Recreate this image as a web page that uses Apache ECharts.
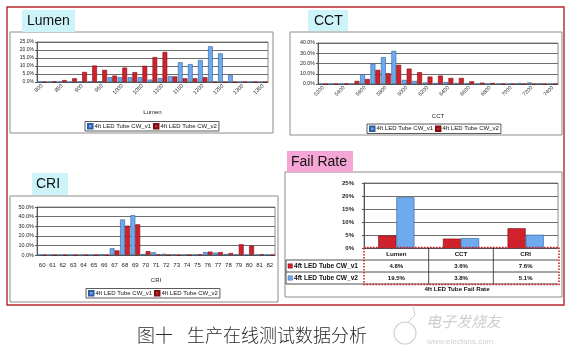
<!DOCTYPE html>
<html><head><meta charset="utf-8">
<script src="https://cdn.jsdelivr.net/npm/echarts@6/dist/echarts.min.js"></script>
<style>html,body{margin:0;padding:0;background:#fff}#c{width:574px;height:355px}</style>
</head><body><div id="c"></div>
<script>
const seriesNames = ['4ft LED Tube CW_v1', '4ft LED Tube CW_v2'];

const lumenCats = ['800','825','850','875','900','925','950','975','1000','1025','1050','1075','1100','1125','1150','1175','1200','1225','1250','1275','1300','1325','1350'];
const lumenV1 = [0,0,0,0,0.3,0.3,0.5,3.0,3.0,3.0,3.0,1.5,2.5,3.7,12.3,11.2,13.7,22.3,17.9,4.4,0,0,0];
const lumenV2 = [0,0.4,1.2,2.3,6.3,10.3,7.6,4.0,9.0,6.2,10.1,15.6,18.8,3.5,2.3,2.3,3.0,0,0,0,0,0,0];

const cctCats = ['5200','5300','5400','5500','5600','5700','5800','5900','6000','6100','6200','6300','6400','6500','6600','6700','6800','6900','7000','7100','7200','7300','7400'];
const cctV1 = [0,0,0,0,9.5,19.7,26.2,32.3,4.0,3.0,1.5,1.0,2.0,1.0,0.5,0,0,0,0,1.0,1.5,0.5,0];
const cctV2 = [0,0.2,0.5,3.0,4.9,13.8,10.5,18.7,15.0,11.5,7.2,8.2,5.9,5.9,2.6,1.3,1.0,0.3,0,0,0,0,0];

const criCats = ['60','61','62','63','64','65','66','67','68','69','70','71','72','73','74','75','76','77','78','79','80','81','82'];
const criV1 = [0,0,0,0,0,0,0.5,7.0,37.0,41.5,1.0,2.8,1.2,0.5,0,0,3.0,2.5,1.0,0.5,0,0,0];
const criV2 = [0,0,0,0,0,0,0,4.8,30.5,32.0,4.0,0.5,0,0,0,0.5,3.5,3.0,2.0,11.2,9.8,0.5,0];

const failCats = ['Lumen', 'CCT', 'CRI'];
const failV1 = [4.8, 3.6, 7.6];
const failV2 = [19.5, 3.8, 5.1];

const panelTitles = ['Lumen', 'CCT', 'CRI', 'Fail Rate'];
const failTitle = '4ft LED Tube Fail Rate';
const captionA = '图十';
const captionB = '生产在线测试数据分析';

const FONT = 'Liberation Sans, Arial, sans-serif';
const BLUE = '#6eaaee', BLUE_B = '#2c5f9e', RED = '#d0222c', RED_B = '#7a0f14';

const grids = [
  {left:37, top:42, width:231, height:40},
  {left:318, top:43, width:240, height:41},
  {left:37, top:207, width:238, height:48},
  {left:364, top:183, width:194, height:65}
].map(g => Object.assign({show:true, borderColor:'#8a8a8a', borderWidth:1, containLabel:false}, g));

function histX(gi, cats, name, rotate, nameGap, fs, interval, margin){
  return {type:'category', gridIndex:gi, data:cats, name:name, nameLocation:'middle', nameGap:nameGap,
    nameTextStyle:{fontSize:6, fontFamily:FONT, color:'#222'},
    axisLine:{lineStyle:{color:'#555'}}, axisTick:{length:2, lineStyle:{color:'#555'}},
    axisLabel:{rotate:rotate, interval:interval, fontSize:fs, fontFamily:FONT, color:'#222', margin:margin}};
}
function histY(gi, max, interval, fs, fmt, bold, margin){
  return {type:'value', gridIndex:gi, min:0, max:max, interval:interval,
    axisLine:{show:true, lineStyle:{color:'#555'}}, axisTick:{show:true, length:2, lineStyle:{color:'#555'}},
    splitLine:{lineStyle:{color:'#5e5e5e', width:0.9}},
    axisLabel:{formatter:fmt, fontSize:fs, fontFamily:FONT, color:'#222', margin:margin || 3, fontWeight: bold ? 'bold' : 'normal'}};
}
function bars(gi, name, data, color, border, catGap){
  return {type:'bar', name:name, xAxisIndex:gi, yAxisIndex:gi, data:data, barGap:'0%', barCategoryGap:catGap,
    itemStyle:{color:color, borderColor:border, borderWidth:0.6}, emphasis:{disabled:true}};
}
const f1 = v => v.toFixed(1) + '%';
const f0 = v => v + '%';

const xAxes = [
  histX(0, lumenCats, 'Lumen', 45, 27, 5.5, 1, 3),
  histX(1, cctCats, 'CCT', 45, 29, 5.3, 1, 3),
  histX(2, criCats, 'CRI', 0, 22, 6, 0, 7),
  {type:'category', gridIndex:3, data:failCats, axisLine:{lineStyle:{color:'#555'}}, axisTick:{show:false}, axisLabel:{show:false}}
];
const yAxes = [
  histY(0, 25, 5, 5, f1),
  histY(1, 40, 10, 5.3, f1),
  histY(2, 50, 10, 5.5, f1),
  histY(3, 25, 5, 6, f0, true, 10)
];

const series = [
  bars(0, seriesNames[0], lumenV1, BLUE, BLUE_B, '6%'),
  bars(0, seriesNames[1], lumenV2, RED, RED_B, '6%'),
  bars(1, seriesNames[0], cctV1, BLUE, BLUE_B, '6%'),
  bars(1, seriesNames[1], cctV2, RED, RED_B, '6%'),
  bars(2, seriesNames[0], criV1, BLUE, BLUE_B, '6%'),
  bars(2, seriesNames[1], criV2, RED, RED_B, '6%'),
  bars(3, 'fail_v1', failV1, RED, RED_B, '44%'),
  bars(3, 'fail_v2', failV2, BLUE, BLUE_B, '44%')
];

function legendAt(left, top){
  return {left:left, top:top, data:seriesNames, icon:'rect', itemWidth:4.5, itemHeight:4.5, itemGap:2,
    padding:[1.5,2], borderColor:'#333', borderWidth:0.8, textStyle:{fontSize:6, fontFamily:FONT, color:'#111', padding:[0,0,0,-3]},
    selectedMode:false};
}

function txt(x, y, text, size, opts){
  opts = opts || {};
  return {type:'text', x:x, y:y, silent:true, z:10, style:{text:text, fontSize:size, fontFamily:opts.family || FONT,
    fontWeight:opts.weight || 'normal', fontStyle:opts.style || 'normal', fill:opts.fill || '#111',
    textAlign:opts.align || 'left', textVerticalAlign:'middle', align:opts.align || 'left', verticalAlign:'middle'}};
}
function rect(x, y, w, h, style, z){
  return {type:'rect', shape:{x:x, y:y, width:w, height:h}, silent:true, z:z || 1, style:style};
}
function line(x1, y1, x2, y2, stroke, w){
  return {type:'line', shape:{x1:x1, y1:y1, x2:x2, y2:y2}, silent:true, z:5, style:{stroke:stroke, lineWidth:w || 0.8}};
}

const g = [];
g.push(rect(7, 7, 557, 298, {fill:'none', stroke:'#b8272c', lineWidth:1.4}));
g.push(rect(10, 32, 263, 101, {fill:'none', stroke:'#8c8c8c', lineWidth:1}));
g.push(rect(290, 32, 272, 103, {fill:'none', stroke:'#8c8c8c', lineWidth:1}));
g.push(rect(10, 196, 268, 106, {fill:'none', stroke:'#8c8c8c', lineWidth:1}));
g.push(rect(285, 172, 277, 125, {fill:'none', stroke:'#8c8c8c', lineWidth:1}));
g.push(rect(22, 10, 53, 22, {fill:'#cdf4f8'}));
g.push(txt(27, 21, panelTitles[0], 14));
g.push(rect(308, 10, 40, 21, {fill:'#cdf4f8'}));
g.push(txt(314, 21, panelTitles[1], 14));
g.push(rect(32, 173, 36, 22, {fill:'#cdf4f8'}));
g.push(txt(36, 184, panelTitles[2], 14));
g.push(rect(287, 151, 66, 21, {fill:'#f6a6d6'}));
g.push(txt(291, 162, panelTitles[3], 14));

const fg = grids[3];
const tTop = fg.top + fg.height, rowH = 12;
const colW = fg.width / failCats.length;
const tLeft = 286, tRight = fg.left + fg.width;
for (let r = 1; r <= 3; r++) g.push(line(tLeft, tTop + r*rowH, tRight, tTop + r*rowH, '#222', 0.8));
g.push(line(tLeft, tTop + rowH, tLeft, tTop + 3*rowH, '#222', 0.8));
for (let c = 1; c < failCats.length; c++) g.push(line(fg.left + c*colW, tTop, fg.left + c*colW, tTop + 3*rowH, '#222', 0.8));
failCats.forEach((cat, i) => {
  const cx = fg.left + (i + 0.5) * colW;
  g.push(txt(cx, tTop + rowH*0.5, cat, 6.2, {weight:'bold', align:'center'}));
  g.push(txt(cx, tTop + rowH*1.5, f1(failV1[i]), 6, {weight:'bold', align:'center'}));
  g.push(txt(cx, tTop + rowH*2.5, f1(failV2[i]), 6, {weight:'bold', align:'center'}));
});
g.push(rect(288, tTop + rowH*1.5 - 2.2, 4.4, 4.4, {fill:RED, stroke:RED_B, lineWidth:0.5}, 6));
g.push(rect(288, tTop + rowH*2.5 - 2.2, 4.4, 4.4, {fill:BLUE, stroke:BLUE_B, lineWidth:0.5}, 6));
g.push(txt(294, tTop + rowH*1.5, seriesNames[0], 6.6, {weight:'bold'}));
g.push(txt(294, tTop + rowH*2.5, seriesNames[1], 6.6, {weight:'bold'}));
g.push(rect(fg.left, tTop - 0.5, fg.width + 1, 3*rowH + 1, {fill:'none', stroke:'#d42020', lineWidth:1.6, lineDash:[1.6,1.4]}, 7));
g.push(txt(fg.left + fg.width/2 - 4, tTop + 3*rowH + 5, failTitle, 6.2, {weight:'bold', align:'center'}));

g.push(txt(137, 335, captionA, 18, {family:'Noto Sans CJK SC, sans-serif', fill:'#2a2a2a', weight:300}));
g.push(txt(187, 335, captionB, 18, {family:'Noto Sans CJK SC, sans-serif', fill:'#2a2a2a', weight:300}));
g.push({type:'circle', shape:{cx:405, cy:333, r:11}, silent:true, z:1, style:{fill:'none', stroke:'#d4d4d4', lineWidth:1.2}});
g.push({type:'polyline', shape:{points:[[413,305],[415,315],[408,322]]}, silent:true, z:1, style:{fill:'none', stroke:'#d0d0d0', lineWidth:1}});
g.push(txt(426, 321, '电子发烧友', 15, {family:'Noto Sans CJK SC, sans-serif', fill:'#cfcfcf', style:'italic'}));
g.push(txt(427, 342, 'www.elecfans.com', 8, {fill:'#cfcfcf'}));

const chart = echarts.init(document.getElementById('c'));
chart.setOption({
  animation:false,
  textStyle:{fontFamily:FONT},
  grid:grids,
  xAxis:xAxes,
  yAxis:yAxes,
  legend:[legendAt(85, 121.5), legendAt(367, 124), legendAt(86, 288.5)],
  series:series,
  graphic:{elements:g}
});
</script>
</body></html>
